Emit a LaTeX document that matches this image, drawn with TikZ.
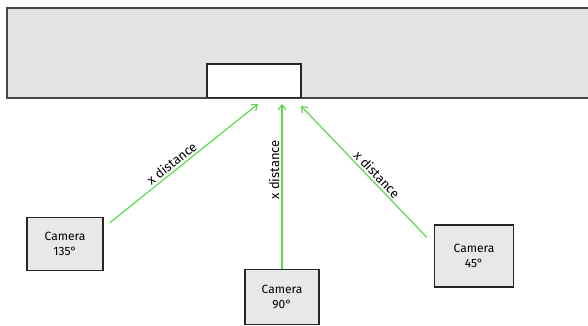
\documentclass[tikz,border=0pt]{standalone}
\usepackage{fontspec}
\setmainfont{Fira Sans}
\usetikzlibrary{positioning, arrows.meta}
\definecolor{wallgray}{RGB}{227,227,227}
\definecolor{boxgray}{RGB}{232,232,232}
\definecolor{edgegray}{RGB}{70,70,70}
\definecolor{beamgreen}{RGB}{95,215,80}

\begin{document}
\begin{tikzpicture}[x=1pt, y=-1pt,
    cam/.style={draw=black!85, line width=1.3pt, fill=boxgray, inner sep=0pt,
      font=\fontsize{12}{15}\selectfont, align=center},
    window/.style={draw=black!85, line width=1.2pt, fill=white, inner sep=0pt,
      minimum width=94pt, minimum height=34pt},
    beam/.style={-{Straight Barb[length=5pt, width=8pt]}, beamgreen, line width=1.2pt},
    dist/.style={font=\fontsize{13}{15}\selectfont, text=black, sloped, above, inner sep=2pt},
  ]
    \clip (0,0) rectangle (588,326);
    \fill[white] (0,0) rectangle (588,326);

    % wall
    \fill[wallgray] (7,8) rectangle (600,98);
    \draw[edgegray, line width=2.2pt] (7,8) -- (600,8);
    \draw[edgegray, line width=1.4pt] (7,7) -- (7,98) -- (600,98);

    % window in the wall
    \node[window] (win) at (254,81) {};
    \draw[edgegray, line width=1.4pt] (win.south west) -- (win.south east);

    \coordinate (hitL) at (258,104);
    \coordinate (hitM) at (282,104);
    \coordinate (hitR) at (301,106);

    % cameras
    \node[cam, minimum width=76pt, minimum height=53pt] (cam135) at (65,244) {Camera\\135°};
    \node[cam, minimum width=74pt, minimum height=55pt] (cam90) at (282,297) {Camera\\90°};
    \node[cam, minimum width=79pt, minimum height=62pt] (cam45) at (474,256) {Camera\\45°};

    \draw[beam] ([shift={(6,6)}]cam135.north east) -- node[dist, pos=0.45] {x distance} (hitL);
    \draw[beam] (cam90.north) -- node[dist, pos=0.6] {x distance} (hitM);
    \draw[beam] ([shift={(-7,13)}]cam45.north west) -- node[dist, pos=0.44] {x distance} (hitR);
  \end{tikzpicture}
\end{document}
